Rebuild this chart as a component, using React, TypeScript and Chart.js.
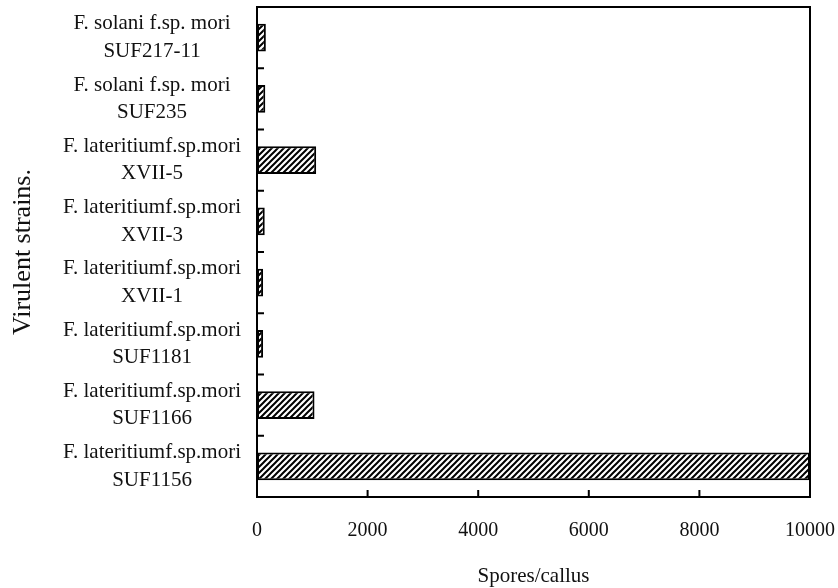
import { useEffect, useRef } from "react";
import { Chart, registerables } from "chart.js";

Chart.register(...registerables);

const speciesNames = [
  "F. solani f.sp. mori",
  "F. solani f.sp. mori",
  "F. lateritiumf.sp.mori",
  "F. lateritiumf.sp.mori",
  "F. lateritiumf.sp.mori",
  "F. lateritiumf.sp.mori",
  "F. lateritiumf.sp.mori",
  "F. lateritiumf.sp.mori",
];
const strainNames = ["SUF217-11", "SUF235", "XVII-5", "XVII-3", "XVII-1", "SUF1181", "SUF1166", "SUF1156"];
const sporesPerCallus = [160, 150, 1070, 140, 110, 110, 1040, 10000];
const xMin = 0;
const xMax = 10000;
const xStep = 2000;
const xInnerTicks = [2000, 4000, 6000, 8000];
const xTitle = "Spores/callus";
const yTitle = "Virulent strains.";

const SERIF = "'Liberation Serif', 'Times New Roman', serif";

function makeHatch(): CanvasPattern | string {
  const s = 6;
  const c = document.createElement("canvas");
  c.width = s;
  c.height = s;
  const g = c.getContext("2d");
  if (!g) return "#000";
  g.fillStyle = "#fff";
  g.fillRect(0, 0, s, s);
  g.strokeStyle = "#000";
  g.lineWidth = 2;
  g.beginPath();
  g.moveTo(-1, s + 1);
  g.lineTo(s + 1, -1);
  g.moveTo(-1, 1);
  g.lineTo(1, -1);
  g.moveTo(s - 1, s + 1);
  g.lineTo(s + 1, s - 1);
  g.stroke();
  return g.createPattern(c, "repeat") || "#000";
}

const framePlugin = {
  id: "frame",
  afterDatasetsDraw(chart: any) {
    const { ctx, chartArea: a, scales } = chart;
    const x = scales.x;
    const y = scales.y;
    ctx.save();
    ctx.strokeStyle = "#000";
    ctx.lineWidth = 2;
    ctx.strokeRect(a.left, a.top, a.right - a.left, a.bottom - a.top);
    ctx.beginPath();
    for (let i = 0; i < strainNames.length - 1; i++) {
      const yy = (y.getPixelForValue(i) + y.getPixelForValue(i + 1)) / 2;
      ctx.moveTo(a.left, yy);
      ctx.lineTo(a.left + 7, yy);
    }
    xInnerTicks.forEach((v) => {
      const xx = x.getPixelForValue(v);
      ctx.moveTo(xx, a.bottom);
      ctx.lineTo(xx, a.bottom - 7);
    });
    ctx.stroke();
    ctx.restore();
  },
};

export default function App() {
  const ref = useRef<HTMLCanvasElement | null>(null);

  useEffect(() => {
    if (!ref.current) return;
    const labels = strainNames.map((s, i) => [speciesNames[i], s]);
    const chart = new Chart(ref.current, {
      type: "bar",
      data: {
        labels,
        datasets: [
          {
            data: sporesPerCallus,
            backgroundColor: makeHatch() as any,
            borderColor: "#000",
            borderWidth: 2,
            borderSkipped: false,
            barPercentage: 0.45,
            categoryPercentage: 1,
          },
        ],
      },
      options: {
        indexAxis: "y",
        responsive: false,
        animation: false,
        devicePixelRatio: 1,
        layout: { padding: { top: 7, right: 28, left: 0, bottom: 0 } },
        plugins: { legend: { display: false }, tooltip: { enabled: false } },
        scales: {
          x: {
            type: "linear",
            min: xMin,
            max: xMax,
            grid: { display: false },
            border: { display: false },
            ticks: {
              stepSize: xStep,
              color: "#111",
              padding: 14,
              font: { family: SERIF, size: 20 },
              maxRotation: 0,
              autoSkip: false,
              callback: (v: any) => String(v),
            },
            title: {
              display: true,
              text: xTitle,
              color: "#111",
              font: { family: SERIF, size: 21 },
              padding: { top: 0, bottom: -1 },
            },
            afterFit: (s: any) => {
              s.height = 91;
              s.paddingLeft = 0;
              s.paddingRight = 0;
            },
          },
          y: {
            type: "category",
            grid: { display: false },
            border: { display: false },
            ticks: {
              color: "#111",
              crossAlign: "center",
              padding: 8,
              autoSkip: false,
              font: { family: SERIF, size: 21, lineHeight: 1.3 },
            },
            title: {
              display: true,
              text: yTitle,
              color: "#111",
              font: { family: SERIF, size: 26 },
              padding: { top: 8, bottom: 0 },
            },
            afterFit: (s: any) => {
              s.width = 257;
              s.paddingTop = 0;
              s.paddingBottom = 0;
            },
          },
        },
      },
      plugins: [framePlugin],
    });
    return () => chart.destroy();
  }, []);

  return (
    <div style={{ position: "fixed", left: 0, top: 0, width: 838, height: 588, background: "#fff" }}>
      <canvas ref={ref} width={838} height={588} style={{ display: "block" }} />
    </div>
  );
}
